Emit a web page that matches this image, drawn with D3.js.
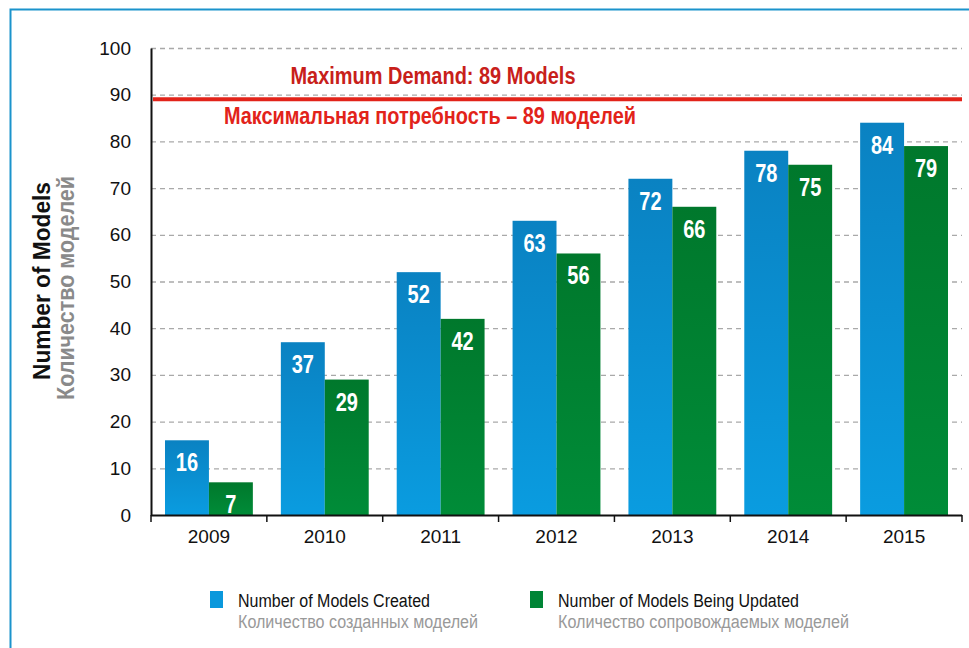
<!DOCTYPE html>
<html>
<head>
<meta charset="utf-8">
<script src="https://cdn.jsdelivr.net/npm/d3@7"></script>
<style>
  body { margin: 0; background: #fff; }
  svg text { font-family: "Liberation Sans", Arial, sans-serif; }
</style>
</head>
<body>
<div class="chart"></div>
<script>
// data
const years = ['2009', '2010', '2011', '2012', '2013', '2014', '2015'];
const created = [16, 37, 52, 63, 72, 78, 84];
const updated = [7, 29, 42, 56, 66, 75, 79];
const yTicks = [0, 10, 20, 30, 40, 50, 60, 70, 80, 90, 100];
const maxDemand = 89;
const seriesNames = ['Number of Models Created', 'Number of Models Being Updated'];
const seriesNamesRu = ['Количество созданных моделей', 'Количество сопровождаемых моделей'];

const W = 969, H = 648;
const margin = {top: 48, right: 7, bottom: 133, left: 151};
const cw = W - margin.left - margin.right;
const ch = H - margin.top - margin.bottom;

const svg = d3.select('.chart').append('svg').attr('width', W).attr('height', H);

// gradients for bars
const defs = svg.append('defs');
const gBlue = defs.append('linearGradient').attr('id', 'gBlue').attr('x1', 0).attr('y1', 0).attr('x2', 0).attr('y2', 1);
gBlue.append('stop').attr('offset', '0%').attr('stop-color', '#0a82c2');
gBlue.append('stop').attr('offset', '100%').attr('stop-color', '#0a9ce0');
const gGreen = defs.append('linearGradient').attr('id', 'gGreen').attr('x1', 0).attr('y1', 0).attr('x2', 0).attr('y2', 1);
gGreen.append('stop').attr('offset', '0%').attr('stop-color', '#00782c');
gGreen.append('stop').attr('offset', '100%').attr('stop-color', '#008c38');

// frame
svg.append('path')
  .attr('d', `M10.5,${H} V9.5 H${W}`)
  .attr('fill', 'none').attr('stroke', '#1b93cc').attr('stroke-width', 2);

const g = svg.append('g').attr('transform', `translate(${margin.left},${margin.top})`);

const x = d3.scaleBand().domain(years).range([0, cw]).paddingInner(0).paddingOuter(0);
const y = d3.scaleLinear().domain([0, 100]).range([ch, 0]);
const inner = 14;
const bw = (x.bandwidth() - 2 * inner) / 2;

// grid
g.append('g').selectAll('line').data(yTicks.filter(d => d > 0)).join('line')
  .attr('x1', 0).attr('x2', cw)
  .attr('y1', d => y(d) + 0.5).attr('y2', d => y(d) + 0.5)
  .attr('stroke', '#a9a9a9').attr('stroke-width', 1.3).attr('stroke-dasharray', '5,4');

// bars
const data = years.map((yr, i) => ({year: yr, a: created[i], b: updated[i]}));
const grp = g.selectAll('.yr').data(data).join('g').attr('class', 'yr')
  .attr('transform', d => `translate(${x(d.year)},0)`);

grp.append('rect').attr('x', inner).attr('width', bw)
  .attr('y', d => y(d.a)).attr('height', d => ch - y(d.a)).attr('fill', 'url(#gBlue)');
grp.append('rect').attr('x', inner + bw).attr('width', bw)
  .attr('y', d => y(d.b)).attr('height', d => ch - y(d.b)).attr('fill', 'url(#gGreen)');

// value labels, squeezed horizontally like a condensed face
grp.append('text')
  .attr('transform', d => `translate(${inner + bw / 2},${y(d.a) + 31}) scale(0.8,1)`)
  .attr('text-anchor', 'middle').attr('fill', '#fff').attr('font-size', 25).attr('font-weight', 'bold')
  .text(d => d.a);
grp.append('text')
  .attr('transform', d => `translate(${inner + bw * 1.5},${y(d.b) + 31}) scale(0.8,1)`)
  .attr('text-anchor', 'middle').attr('fill', '#fff').attr('font-size', 25).attr('font-weight', 'bold')
  .text(d => d.b);

// axes
const yAxis = g.append('g').call(d3.axisLeft(y).tickValues(yTicks).tickSize(0).tickPadding(20));
yAxis.select('.domain').attr('stroke', '#111').attr('stroke-width', 2);
yAxis.selectAll('text').attr('font-size', 19).attr('fill', '#111')
  .style('font-family', '"Liberation Sans", Arial, sans-serif');

const xAxis = g.append('g').attr('transform', `translate(0,${ch})`)
  .call(d3.axisBottom(x).tickSize(0).tickPadding(15));
xAxis.select('.domain').remove();
xAxis.selectAll('text').attr('font-size', 19).attr('fill', '#111')
  .style('font-family', '"Liberation Sans", Arial, sans-serif');
g.append('line').attr('x1', 0).attr('x2', cw).attr('y1', ch + 0.5).attr('y2', ch + 0.5)
  .attr('stroke', '#111').attr('stroke-width', 2);
g.append('g').selectAll('line').data(years.map(d => x(d)).concat([cw])).join('line')
  .attr('x1', d => d).attr('x2', d => d).attr('y1', ch).attr('y2', ch + 7)
  .attr('stroke', '#111').attr('stroke-width', 1.5);

// max demand line
g.append('line').attr('x1', 2).attr('x2', cw).attr('y1', y(maxDemand)).attr('y2', y(maxDemand))
  .attr('stroke', '#e2231a').attr('stroke-width', 4);
g.append('text').attr('x', 282).attr('y', y(maxDemand) - 15).attr('text-anchor', 'middle')
  .attr('fill', '#c8201a').attr('font-size', 23).attr('font-weight', 'bold')
  .attr('textLength', 285).attr('lengthAdjust', 'spacingAndGlyphs')
  .text('Maximum Demand: 89 Models');
g.append('text').attr('x', 279).attr('y', y(maxDemand) + 25).attr('text-anchor', 'middle')
  .attr('fill', '#e2231a').attr('font-size', 23).attr('font-weight', 'bold')
  .attr('textLength', 412).attr('lengthAdjust', 'spacingAndGlyphs')
  .text('Максимальная потребность – 89 моделей');

// y title
svg.append('text').attr('transform', 'translate(50,281) rotate(-90)')
  .attr('text-anchor', 'middle').attr('font-size', 23).attr('font-weight', 'bold').attr('fill', '#111')
  .attr('textLength', 198).attr('lengthAdjust', 'spacingAndGlyphs')
  .text('Number of Models');
svg.append('text').attr('transform', 'translate(74,288) rotate(-90)')
  .attr('text-anchor', 'middle').attr('font-size', 23).attr('font-weight', 'bold').attr('fill', '#8a8a8a')
  .attr('textLength', 224).attr('lengthAdjust', 'spacingAndGlyphs')
  .text('Количество моделей');

// legend
const legX = [210, 530];
const legW = [192, 241];
const legWRu = [240, 291];
const leg = svg.selectAll('.leg').data(seriesNames).join('g').attr('class', 'leg')
  .attr('transform', (d, i) => `translate(${legX[i]},591)`);
leg.append('rect').attr('width', 13).attr('height', 17)
  .attr('fill', (d, i) => i === 0 ? '#0a98dc' : '#008536');
leg.append('text').attr('x', 28).attr('y', 16).attr('font-size', 18).attr('fill', '#111')
  .attr('textLength', (d, i) => legW[i]).attr('lengthAdjust', 'spacingAndGlyphs')
  .text(d => d);
leg.append('text').attr('x', 28).attr('y', 37).attr('font-size', 18).attr('fill', '#999')
  .attr('textLength', (d, i) => legWRu[i]).attr('lengthAdjust', 'spacingAndGlyphs')
  .text((d, i) => seriesNamesRu[i]);
</script>
</body>
</html>
